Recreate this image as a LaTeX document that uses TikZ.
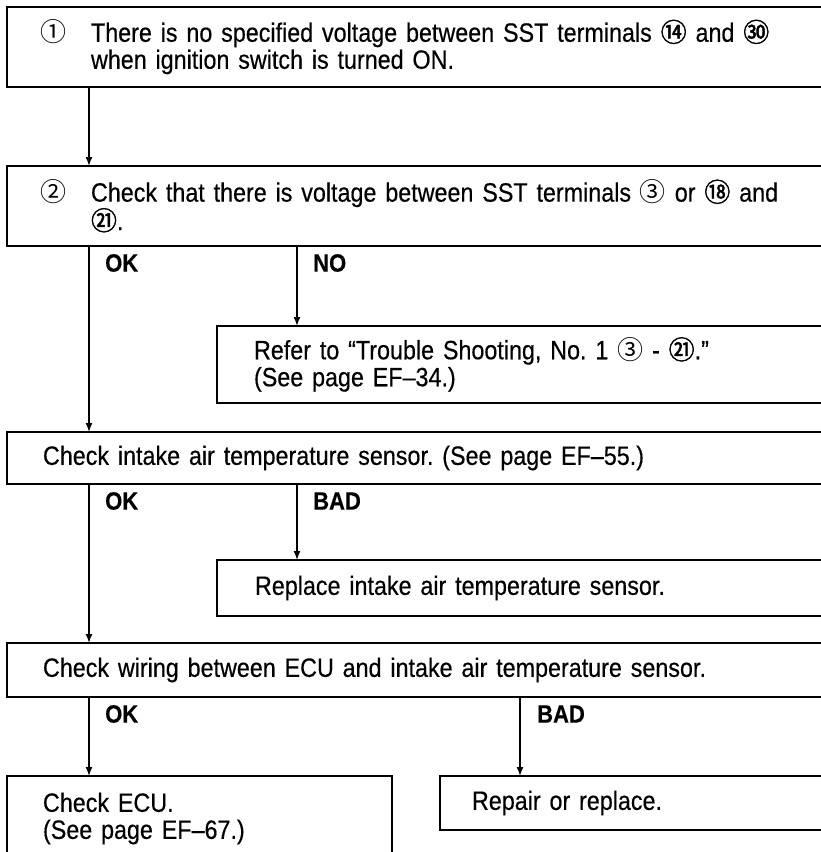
\documentclass[tikz,border=0pt]{standalone}
\usepackage{fontspec}
\setmainfont{Liberation Sans}[FakeStretch=0.88, FakeBold=0.4, WordSpace=0.8]
\newfontfamily\cjk{Noto Sans CJK SC}
\newfontfamily\cjkheavy{Noto Sans CJK SC}[FakeBold=1.6]
\usetikzlibrary{arrows.meta,positioning,calc}
\frenchspacing
\newcommand{\cnum}[1]{{\fontsize{26}{27}\cjk #1}}
\newcommand{\cnumb}[1]{{\fontsize{26}{27}\cjkheavy #1}}
\newcommand{\numlead}[1]{\leavevmode\llap{\cnum{#1}\hspace{25pt}}}

\tikzset{
  stepbox/.style={draw, line width=2.6pt, outer sep=0pt, anchor=north west,
    align=left, inner ysep=0pt, text width=760pt,
    font=\fontsize{26.5}{27}\selectfont},
  flow/.style={line width=1.4pt, -{Latex[length=9pt,width=7pt]}},
  lbl/.style={anchor=west, inner sep=0pt, font=\bfseries\fontsize{25}{25}\selectfont}
}

\begin{document}
\begin{tikzpicture}[x=1pt,y=-1pt]
  \useasboundingbox (0,0) rectangle (821,852);
  \fill[white] (0,0) rectangle (821,852);
  \clip (0,0) rectangle (821,852);

  % columns of the connectors
  \coordinate (colA) at (89,0);
  \coordinate (colB) at (297,0);
  \coordinate (colC) at (520,0);

  % boxes
  \node[stepbox, inner xsep=84pt, minimum height=80pt] (b1) at (7,7)
    {\numlead{①}There is no specified voltage between SST terminals \cnumb{⑭} and \cnumb{㉚}\\
     when ignition switch is turned ON.};
  \node[stepbox, inner xsep=84pt, minimum height=80pt] (b2) at (7,166)
    {\numlead{②}Check that there is voltage between SST terminals \cnum{③} or \cnumb{⑱} and\\
     \cnumb{㉑}.};
  \node[stepbox, inner xsep=37pt, minimum height=77pt] (b3) at (217,326)
    {Refer to “Trouble Shooting, No. 1 \cnum{③} - \cnumb{㉑}.”\\
     (See page EF–34.)};
  \node[stepbox, inner xsep=36pt, minimum height=52pt] (b4) at (7,432)
    {Check intake air temperature sensor. (See page EF–55.)};
  \node[stepbox, inner xsep=38pt, minimum height=56pt] (b5) at (217,560)
    {Replace intake air temperature sensor.};
  \node[stepbox, inner xsep=36pt, minimum height=54pt] (b6) at (7,643)
    {Check wiring between ECU and intake air temperature sensor.};
  \node[stepbox, inner xsep=36pt, text width=313pt, minimum height=85pt] (b7) at (7,776)
    {Check ECU.\\
     (See page EF–67.)};
  \node[stepbox, inner xsep=32pt, minimum height=54pt] (b8) at (440,776)
    {Repair or replace.};

  % connectors
  \draw[flow] (b1.south -| colA) -- (b2.north -| colA);
  \draw[flow] (b2.south -| colA) -- (b4.north -| colA);
  \draw[flow] (b2.south -| colB) -- (b3.north -| colB);
  \draw[flow] (b4.south -| colA) -- (b6.north -| colA);
  \draw[flow] (b4.south -| colB) -- (b5.north -| colB);
  \draw[flow] (b6.south -| colA) -- (b7.north -| colA);
  \draw[flow] (b6.south -| colC) -- (b8.north -| colC);

  % branch labels
  \node[lbl] (okA)  at ($(b2.south -| colA)+(16,17)$) {OK};
  \node[lbl] (noA)  at ($(b2.south -| colB)+(16,17)$) {NO};
  \node[lbl] (okB)  at ($(b4.south -| colA)+(16,17)$) {OK};
  \node[lbl] (badA) at ($(b4.south -| colB)+(16,17)$) {BAD};
  \node[lbl] (okC)  at ($(b6.south -| colA)+(16,17)$) {OK};
  \node[lbl] (badB) at ($(b6.south -| colC)+(17,17)$) {BAD};
\end{tikzpicture}
\end{document}
